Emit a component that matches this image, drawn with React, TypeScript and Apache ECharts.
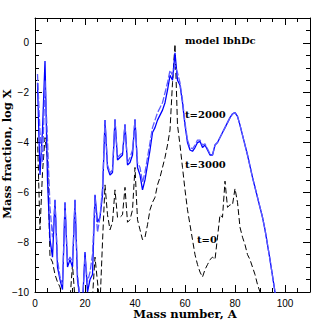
import React, { useEffect, useRef } from 'react';
import * as echarts from 'echarts';

// log mass fraction vs mass number A (A starts at 1)
const t3000: number[] = [
  -1.6, -5.3, -3.5, -0.73, -5.5, -7.9, -8.6, -6.3, -9.0, -9.5,
  -9.9, -6.4, -9.0, -8.7, -9.0, -6.3, -9.5, -10.3, -10.5, -8.4,
  -10.0, -9.5, -9.3, -6.1, -7.2, -7.0, -6.1, -3.1, -5.0, -5.3,
  -5.2, -3.07, -4.7, -4.6, -4.5, -3.27, -4.9, -4.8, -4.5, -3.07,
  -5.0, -5.3, -5.9, -5.5, -4.9, -4.3, -3.6, -3.4, -3.1, -2.9,
  -2.7, -2.4, -1.9, -1.3, -1.5, -0.4, -1.5, -1.7, -2.4, -3.3,
  -4.0, -4.3, -4.35, -4.2, -4.0, -3.95, -4.2, -4.1, -4.3, -4.5,
  -4.5, -4.1, -4.0, -3.8, -3.6, -3.4, -3.2, -3.0, -2.85, -2.8,
  -2.95, -3.3, -3.7, -4.1, -4.5, -4.95, -5.4, -5.8, -6.2, -6.6,
  -7.0, -7.5, -8.1, -8.7, -9.35, -10.0, -10.6,
];

const t2000: number[] = [
  -1.25, -3.6, -4.8, -1.5, -3.9, -6.6, -7.8, -6.4, -8.7, -9.4,
  -9.7, -6.5, -8.8, -8.6, -8.8, -6.4, -9.3, -10.2, -10.4, -8.6,
  -9.6, -9.2, -8.5, -6.2, -7.6, -7.0, -5.8, -3.15, -4.9, -5.2,
  -5.1, -3.1, -4.6, -4.5, -4.4, -3.3, -4.8, -4.6, -4.3, -3.1,
  -4.8, -5.0, -5.6, -5.2, -4.6, -4.0, -3.4, -3.1, -2.8, -2.6,
  -2.4, -2.0, -1.6, -1.1, -1.3, -0.9, -1.2, -1.6, -2.3, -3.2,
  -3.9, -4.2, -4.25, -4.1, -3.9, -3.9, -4.1, -4.05, -4.25, -4.45,
  -4.5, -4.1, -4.0, -3.8, -3.6, -3.4, -3.2, -3.0, -2.85, -2.8,
  -2.95, -3.3, -3.7, -4.1, -4.5, -4.95, -5.4, -5.8, -6.2, -6.6,
  -7.0, -7.5, -8.1, -8.7, -9.35, -10.0, -10.6,
];

const t0: number[] = [
  -3.8, -7.5, -5.2, -3.8, -4.6, -8.6, -8.8, -9.3, -9.6, -9.8,
  -10.3, -10.5, -10.6, -10.3, -8.9, -10.3, -10.6, -10.8, -10.7, -10.4,
  -10.6, -10.5, -10.2, -8.6, -9.6, -10.5, -8.0, -5.7, -6.9, -7.5,
  -7.2, -5.9, -7.0, -7.0, -6.9, -5.8, -7.2, -7.1, -6.7, -5.0,
  -7.1, -7.5, -7.9, -7.8, -7.3, -6.7, -6.4, -6.2, -5.7, -5.4,
  -5.0, -4.6, -4.1, -3.5, -1.6, -0.05, -3.3, -4.1, -5.0, -5.9,
  -6.7, -7.3, -7.9, -8.5, -8.9, -9.2, -9.4, -9.1, -8.9, -8.7,
  -8.6, -8.7, -7.8, -6.9, -7.0, -5.55, -6.6, -6.5, -6.5, -5.85,
  -6.4, -7.4, -7.8, -8.1, -8.5, -8.7, -9.0, -9.3, -9.7, -10.0,
  -10.4,
];

const xMajorTicks = [0, 20, 40, 60, 80, 100];
const yMajorTicks = [-10, -8, -6, -4, -2, 0];

const labels = {
  model: 'model lbhDc',
  s2000: 't=2000',
  s3000: 't=3000',
  s0: 't=0',
  xName: 'Mass number, A',
  yName: 'Mass fraction, log X',
};

const toPairs = (arr: number[]) => arr.map((v, i) => [i + 1, v]);
const fmt = (v: number) => String(v).replace('-', '\u2212');

export default function App() {
  const ref = useRef<HTMLDivElement>(null);
  useEffect(() => {
    const chart = echarts.init(ref.current!, null, { renderer: 'svg' });
    const black = '#000';
    const line = { show: true, onZero: false, lineStyle: { color: black, width: 1 } };
    const noLine = { show: false, onZero: false };
    const labelStyle = { color: black, fontFamily: 'Liberation Sans', fontSize: 10 };
    const xb = { type: 'value', min: 0, max: 110, splitLine: { show: false } };
    const yb = { type: 'value', min: -10, max: 1, splitLine: { show: false } };
    const major = { show: true, inside: true, length: 7, lineStyle: { color: black, width: 1 } };
    const minor = { show: true, inside: true, length: 4, lineStyle: { color: black, width: 1 } };
    const lblFont = 'bold 10px "DejaVu Serif"';
    const nameFont = 'bold 11.5px "DejaVu Serif"';
    chart.setOption({
      animation: false,
      grid: { left: 35, top: 18, right: 17, bottom: 35, containLabel: false },
      xAxis: [
        {
          ...xb, position: 'bottom', interval: 20, axisLine: line, axisTick: major,
          axisLabel: {
            ...labelStyle, margin: 6,
            formatter: (v: number) => (xMajorTicks.includes(v) ? fmt(v) : ''),
          },
        },
        { ...xb, position: 'bottom', interval: 5, axisLine: noLine, axisTick: minor, axisLabel: { show: false } },
        { ...xb, position: 'top', interval: 20, axisLine: line, axisTick: major, axisLabel: { show: false } },
        { ...xb, position: 'top', interval: 5, axisLine: noLine, axisTick: minor, axisLabel: { show: false } },
      ],
      yAxis: [
        {
          ...yb, position: 'left', interval: 2, axisLine: line, axisTick: major,
          axisLabel: {
            ...labelStyle, margin: 6,
            formatter: (v: number) => (yMajorTicks.includes(v) ? fmt(v) : ''),
          },
        },
        { ...yb, position: 'left', interval: 0.5, axisLine: noLine, axisTick: minor, axisLabel: { show: false } },
        { ...yb, position: 'right', interval: 2, axisLine: line, axisTick: major, axisLabel: { show: false } },
        { ...yb, position: 'right', interval: 0.5, axisLine: noLine, axisTick: minor, axisLabel: { show: false } },
      ],
      series: [
        {
          name: 't=0', type: 'line', data: toPairs(t0), xAxisIndex: 0, yAxisIndex: 0,
          symbol: 'none', clip: true,
          lineStyle: { color: black, width: 1, type: [6, 3] },
        },
        {
          name: 't=3000', type: 'line', data: toPairs(t3000), xAxisIndex: 0, yAxisIndex: 0,
          symbol: 'none', clip: true,
          lineStyle: { color: '#0000ff', width: 1.3 },
        },
        {
          name: 't=2000', type: 'line', data: toPairs(t2000), xAxisIndex: 0, yAxisIndex: 0,
          symbol: 'none', clip: true,
          lineStyle: { color: '#5c5cff', width: 1.3, type: [7, 2] },
        },
      ],
      graphic: [
        { type: 'text', x: 185, y: 40, style: { text: labels.model, font: lblFont, fill: black, textVerticalAlign: 'middle' } },
        { type: 'text', x: 185, y: 114, style: { text: labels.s2000, font: lblFont, fill: black, textVerticalAlign: 'middle' } },
        { type: 'text', x: 185, y: 164, style: { text: labels.s3000, font: lblFont, fill: black, textVerticalAlign: 'middle' } },
        { type: 'text', x: 197, y: 239, style: { text: labels.s0, font: lblFont, fill: black, textVerticalAlign: 'middle' } },
        { type: 'text', x: 185, y: 314, style: { text: labels.xName, font: nameFont, fill: black, textAlign: 'center', textVerticalAlign: 'middle' } },
        { type: 'text', x: 7, y: 154, rotation: Math.PI / 2, style: { text: labels.yName, font: nameFont, fill: black, textAlign: 'center', textVerticalAlign: 'middle' } },
      ],
    });
    return () => chart.dispose();
  }, []);
  return <div ref={ref} style={{ position: 'fixed', left: 0, top: 0, width: 327, height: 327, background: '#fff' }} />;
}
